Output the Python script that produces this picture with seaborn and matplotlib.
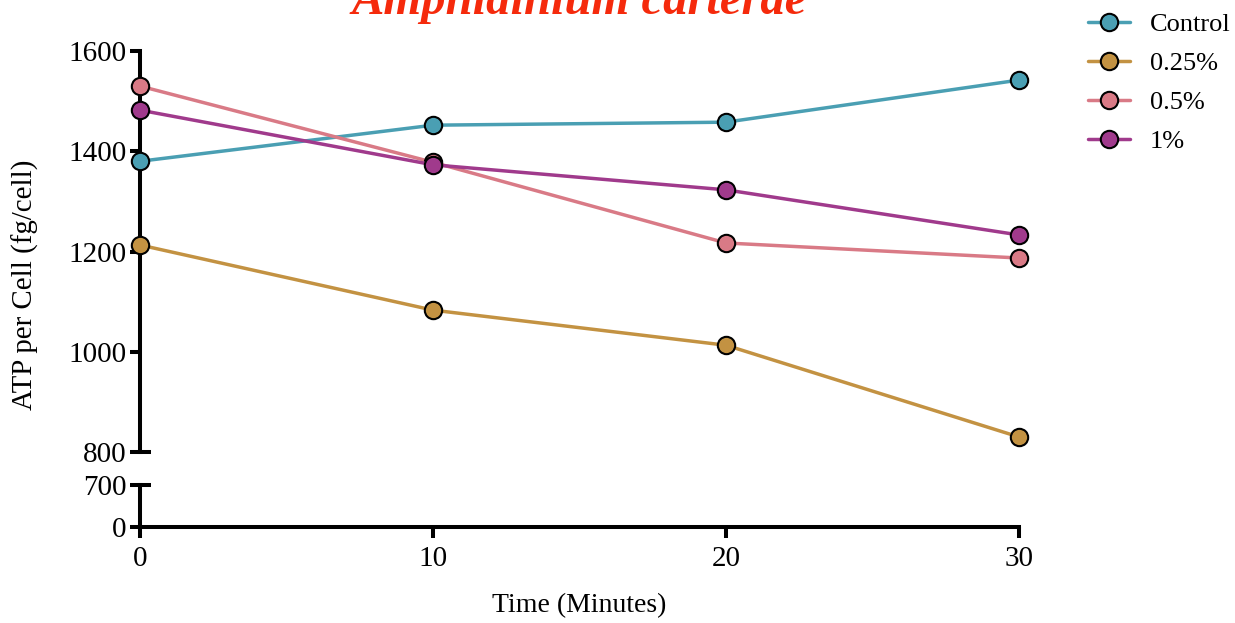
import matplotlib
matplotlib.use("Agg")
import matplotlib.pyplot as plt
import seaborn as sns
import pandas as pd
from matplotlib.lines import Line2D

sns.set_theme(style="ticks")
plt.rcParams["font.family"] = ["Liberation Serif", "DejaVu Serif"]
plt.rcParams["text.color"] = "black"
plt.rcParams["axes.edgecolor"] = "black"
plt.rcParams["xtick.color"] = "black"
plt.rcParams["ytick.color"] = "black"

# ATP measurements over time
time_min = [0, 10, 20, 30]
groups = ["Control", "0.25%", "0.5%", "1%"]
control = [1380, 1452, 1458, 1542]
conc_025 = [1213, 1083, 1013, 830]
conc_05 = [1530, 1378, 1217, 1187]
conc_1 = [1482, 1373, 1323, 1233]
colors = ["#4A9FB3", "#C39242", "#D97A86", "#A03A8C"]

y_ticks_upper = [800, 1000, 1200, 1400, 1600]
y_ticks_lower = [0, 700]
x_ticks = [0, 10, 20, 30]

df = pd.DataFrame({
    "Time": time_min * 4,
    "ATP": control + conc_025 + conc_05 + conc_1,
    "Group": sum([[g] * len(time_min) for g in groups], []),
})

W, H = 1235, 623
fig = plt.figure(figsize=(W / 100, H / 100), dpi=100)
left, right = 140 / W, 1019 / W
ax_up = fig.add_axes([left, 1 - 452 / H, right - left, (452 - 51) / H])
ax_lo = fig.add_axes([left, 1 - 527 / H, right - left, (527 - 485) / H], sharex=ax_up)

lw_spine = 2.9
lw_line = 2.5
msize = 12.5
palette = dict(zip(groups, colors))
sns.lineplot(data=df, x="Time", y="ATP", hue="Group", hue_order=groups,
             palette=palette, marker="o", markersize=msize,
             markeredgecolor="black", markeredgewidth=1.5,
             linewidth=lw_line, ax=ax_up, legend=False, clip_on=False, zorder=3)

for ax in (ax_up, ax_lo):
    ax.set_facecolor("white")
    for s in ("top", "right"):
        ax.spines[s].set_visible(False)
    ax.spines["left"].set_linewidth(lw_spine)
    ax.spines["bottom"].set_linewidth(lw_spine)
    ax.tick_params(axis="both", width=lw_spine, length=7.5, labelsize=21,
                   color="black", labelcolor="black", direction="out", pad=2)
    ax.set_xlabel("")
    ax.set_ylabel("")

ax_up.spines["bottom"].set_visible(False)
ax_up.tick_params(axis="x", bottom=False, labelbottom=False)
ax_up.set_ylim(800, 1600)
ax_up.set_yticks(y_ticks_upper)
ax_up.set_xlim(0, 30)

ax_lo.set_ylim(0, 700)
ax_lo.set_yticks(y_ticks_lower)
ax_lo.set_xticks(x_ticks)
ax_lo.tick_params(axis="x", length=8, pad=6)

# break markers at the axis gap
for ax, yv in ((ax_up, 0.0), (ax_lo, 1.0)):
    ax.plot([0, 0.0125], [yv, yv], transform=ax.transAxes, color="black",
            lw=lw_spine, clip_on=False, solid_capstyle="butt")

fig.text(25 / W, 1 - 285 / H, "ATP per Cell (fg/cell)", rotation=90,
         ha="center", va="center", fontsize=20.8)
fig.text(579 / W, 1 - 606 / H, "Time (Minutes)", ha="center", va="center",
         fontsize=20)
fig.text(579 / W, 1 - 14 / H, "Amphidinium carterae", ha="center",
         va="baseline", fontsize=35, fontweight="bold", fontstyle="italic",
         color="#F52A0C")

handles = [Line2D([0], [0], color=c, lw=lw_line, marker="o", markersize=msize,
                  markeredgecolor="black", markeredgewidth=1.5)
           for c in colors]
fig.legend(handles, groups, loc="upper left",
           bbox_to_anchor=(1088 / W, 1 - 13 / H), frameon=False,
           fontsize=19, handlelength=1.6, handletextpad=0.75,
           labelspacing=0.58, borderaxespad=0, borderpad=0)

fig.savefig("out.png", dpi=100, facecolor="white")
